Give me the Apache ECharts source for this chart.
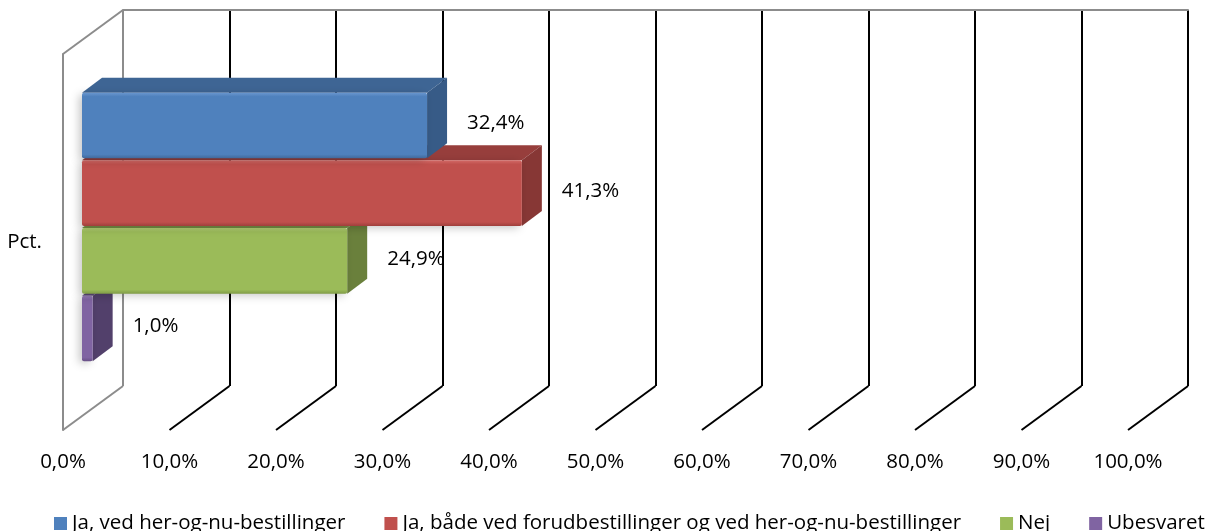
<!doctype html>
<html>
<head>
  <meta charset="UTF-8" />
  <title>Pct.</title>
  <script src="https://cdn.jsdelivr.net/npm/echarts@6/dist/echarts.min.js"></script>
  <style>
    html, body { margin: 0; padding: 0; background: #fff; }
    #main { width: 1211px; height: 531px; }
  </style>
</head>
<body>
  <div id="main"></div>
  <script>
    // data
    const categories = ['Pct.'];
    const seriesNames = [
      'Ja, ved her-og-nu-bestillinger',
      'Ja, både ved forudbestillinger og ved her-og-nu-bestillinger',
      'Nej',
      'Ubesvaret'
    ];
    const seriesValues = [32.4, 41.3, 24.9, 1.0];
    const tickValues = [0, 10, 20, 30, 40, 50, 60, 70, 80, 90, 100];

    // look
    const faces = [
      { front: '#4f81bd', light: '#6a97cf', dark: '#41699b', top: '#3e6594', side: '#375b87' },
      { front: '#c0504d', light: '#d26a67', dark: '#9f3f3c', top: '#973e3c', side: '#873735' },
      { front: '#9bbb59', light: '#b2cf74', dark: '#809c47', top: '#7a9446', side: '#6a803c' },
      { front: '#8064a2', light: '#977cb9', dark: '#674f85', top: '#5d4979', side: '#52406b' }
    ];
    const FONT = 'Open Sans';
    const FS = 20.5;
    const WALL = '#8c8c8c';
    const DEPTH = [60, -44];     // front plane -> back wall
    const BAR_SHIFT = [19, -14]; // front plane -> bar front face
    const BAR_DEPTH = [20, -15]; // bar thickness

    const pct = v => Number(v).toFixed(1).replace('.', ',') + '%';

    function floorLines(params, api) {
      const v = api.value(0);
      const cs = params.coordSys;
      const x = api.coord([v, 0])[0];
      const yb = cs.y + cs.height;
      const stroke = v === 0 ? WALL : '#000';
      const kids = [{
        type: 'line',
        shape: { x1: x, y1: yb, x2: x + DEPTH[0], y2: yb + DEPTH[1] },
        style: { stroke: stroke, lineWidth: 2 }
      }];
      if (v === 0) {
        kids.push({
          type: 'line',
          shape: { x1: x, y1: cs.y, x2: x + DEPTH[0], y2: cs.y + DEPTH[1] },
          style: { stroke: WALL, lineWidth: 2 }
        });
      }
      return { type: 'group', children: kids };
    }

    function makeBar(i) {
      return function (params, api) {
        const v = api.value(0);
        const p0 = api.coord([0, 0]);
        const p1 = api.coord([v, 0]);
        const slot = api.size([0, 1])[1] * 0.18;
        const h = slot - 2;
        const x0 = p0[0] + BAR_SHIFT[0];
        const x1 = p1[0] + BAR_SHIFT[0];
        const y0 = p0[1] + BAR_SHIFT[1] + (i - 2) * slot;
        const dx = BAR_DEPTH[0], dy = BAR_DEPTH[1];
        const f = faces[i];
        return {
          type: 'group',
          children: [
            {
              type: 'polygon',
              shape: { points: [[x0, y0], [x1, y0], [x1 + dx, y0 + dy], [x0 + dx, y0 + dy]] },
              style: { fill: f.top }
            },
            {
              type: 'polygon',
              shape: { points: [[x1, y0], [x1 + dx, y0 + dy], [x1 + dx, y0 + h + dy], [x1, y0 + h]] },
              style: { fill: f.side }
            },
            {
              type: 'rect',
              shape: { x: x0, y: y0, width: x1 - x0, height: h, r: 2 },
              style: {
                fill: new echarts.graphic.LinearGradient(0, 0, 0, 1, [
                  { offset: 0, color: f.light },
                  { offset: 0.06, color: f.front },
                  { offset: 0.94, color: f.front },
                  { offset: 1, color: f.dark }
                ]),
                shadowBlur: 8,
                shadowOffsetX: -3,
                shadowOffsetY: 2,
                shadowColor: 'rgba(0,0,0,0.22)'
              }
            },
            {
              type: 'text',
              style: {
                x: x1 + 40, y: y0 + h / 2 - 2, text: pct(v),
                align: 'left', verticalAlign: 'middle',
                fontFamily: FONT, fontSize: FS, fill: '#000'
              }
            }
          ]
        };
      };
    }

    const chart = echarts.init(document.getElementById('main'));

    const series = [{
      type: 'custom',
      name: 'floor',
      xAxisIndex: 0,
      yAxisIndex: 0,
      silent: true,
      z: 1,
      data: tickValues.map(v => [v, 0]),
      renderItem: floorLines
    }];
    seriesNames.forEach((name, i) => {
      series.push({
        type: 'custom',
        name: name,
        xAxisIndex: 0,
        yAxisIndex: 0,
        z: 10 - i,
        itemStyle: { color: faces[i].front },
        data: [[seriesValues[i], 0]],
        renderItem: makeBar(i)
      });
    });

    chart.setOption({
      animation: false,
      backgroundColor: '#fff',
      grid: [
        { left: 63, right: 83, top: 54, bottom: 101 },
        { left: 123, right: 23, top: 10, bottom: 145 }
      ],
      xAxis: [
        {
          gridIndex: 0, type: 'value', min: 0, max: 100, interval: 10,
          axisLine: { show: false }, axisTick: { show: false }, splitLine: { show: false },
          axisLabel: { formatter: pct, margin: 22, fontFamily: FONT, fontSize: FS, color: '#000' }
        },
        {
          gridIndex: 1, type: 'value', min: 0, max: 100, interval: 10, position: 'top',
          axisLine: { show: true, onZero: false, lineStyle: { color: WALL, width: 2 } },
          axisTick: { show: false }, axisLabel: { show: false },
          splitLine: { show: true, lineStyle: { color: tickValues.map(v => v === 0 ? WALL : '#000'), width: 2 } }
        }
      ],
      yAxis: [
        {
          gridIndex: 0, type: 'category', data: categories,
          axisLine: { show: true, lineStyle: { color: WALL, width: 2 } },
          axisTick: { show: false }, splitLine: { show: false },
          axisLabel: { margin: 21, fontFamily: FONT, fontSize: FS, color: '#000' }
        },
        { gridIndex: 1, type: 'value', show: false }
      ],
      legend: {
        data: seriesNames,
        left: 49,
        top: 508,
        icon: 'rect',
        itemWidth: 13,
        itemHeight: 13,
        itemGap: 39,
        textStyle: { fontFamily: FONT, fontSize: FS, color: '#000' }
      },
      series: series
    });
  </script>
</body>
</html>
